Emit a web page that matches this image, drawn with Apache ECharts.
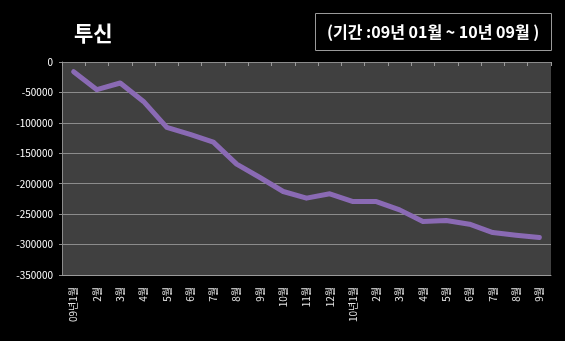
<!DOCTYPE html>
<html>
<head>
<meta charset="utf-8">
<script src="https://cdn.jsdelivr.net/npm/echarts@6/dist/echarts.min.js"></script>
<style>
  html, body { margin: 0; padding: 0; background: #000; }
  #chart { width: 565px; height: 341px; }
</style>
</head>
<body>
<div id="chart"></div>
<script>
// Monthly categories, Jan 2009 – Sep 2010
const months = ['09년1월', '2월', '3월', '4월', '5월', '6월', '7월', '8월', '9월', '10월', '11월', '12월',
                '10년1월', '2월', '3월', '4월', '5월', '6월', '7월', '8월', '9월'];

// Cumulative net flow of investment trusts (투신)
const values = [-16000, -45500, -34500, -64800, -107500, -119000, -131600, -167800, -189800, -212800,
                -223700, -216600, -229300, -229300, -243000, -262200, -260500, -266500, -280300, -284600, -288500];

const yMin = -350000;
const yMax = 0;
const yStep = 50000;

const FONT = '"Noto Sans CJK KR", "Noto Sans", sans-serif';
const chart = echarts.init(document.getElementById('chart'), null, { renderer: 'canvas' });

chart.setOption({
  backgroundColor: '#000000',
  animation: false,
  title: [
    {
      text: '투신',
      left: 69,
      top: 18,
      textStyle: { color: '#ffffff', fontSize: 21, fontWeight: 'bold', fontFamily: FONT }
    },
    {
      text: '(기간 :09년 01월 ~ 10년 09월 )',
      left: 315,
      top: 13,
      padding: [9, 12, 10, 12],
      borderColor: '#9a9a9a',
      borderWidth: 1,
      itemGap: 0,
      textStyle: { color: '#ffffff', fontSize: 16, fontWeight: 'bold', fontFamily: FONT, lineHeight: 19 }
    }
  ],
  grid: { left: 62, right: 14, top: 62, bottom: 66, backgroundColor: '#404040', show: true, borderWidth: 0 },
  xAxis: [
    {
      type: 'category',
      data: months,
      position: 'bottom',
      boundaryGap: true,
      axisLine: { show: true, onZero: false, lineStyle: { color: '#9a9a9a', width: 1 } },
      axisTick: { show: false },
      axisLabel: {
        rotate: 90,
        interval: 0,
        margin: 12,
        color: '#e6e6e6',
        fontSize: 10,
        fontFamily: FONT
      }
    },
    {
      type: 'category',
      data: months,
      position: 'top',
      boundaryGap: true,
      axisLine: { show: true, onZero: false, lineStyle: { color: '#8c8c8c', width: 1 } },
      axisTick: { show: true, inside: true, length: 4, interval: 0, lineStyle: { color: '#9a9a9a' } },
      axisLabel: { show: false }
    }
  ],
  yAxis: {
    type: 'value',
    min: yMin,
    max: yMax,
    interval: yStep,
    axisLine: { show: true, lineStyle: { color: '#8c8c8c' } },
    axisTick: { show: true, length: 3, lineStyle: { color: '#8c8c8c' } },
    splitLine: { show: true, lineStyle: { color: '#8c8c8c', width: 1 } },
    axisLabel: {
      color: '#ffffff',
      fontSize: 10,
      margin: 9,
      fontFamily: FONT,
      formatter: (v) => String(v)
    }
  },
  series: [
    {
      type: 'line',
      data: values,
      xAxisIndex: 0,
      symbol: 'none',
      lineStyle: { color: '#8a6ab4', width: 5, cap: 'round', join: 'round' }
    }
  ]
});
</script>
</body>
</html>
